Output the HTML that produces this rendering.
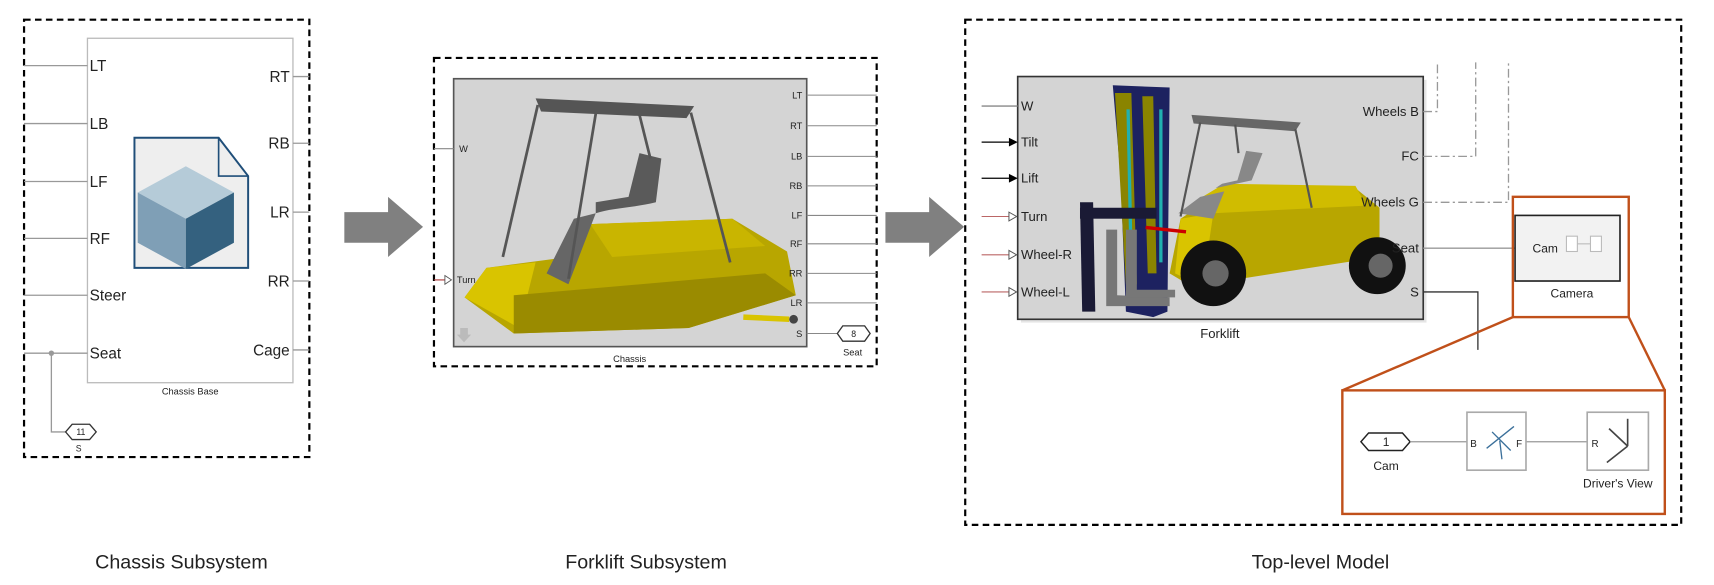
<!DOCTYPE html>
<html><head><meta charset="utf-8"><style>
html,body{margin:0;padding:0;background:#fff;}
svg{display:block;}
text{font-family:"Liberation Sans",sans-serif;fill:#222;}
</style></head><body>
<svg width="1714" height="585" viewBox="0 0 1568 535" preserveAspectRatio="none" xmlns="http://www.w3.org/2000/svg">
<rect x="22" y="18" width="261" height="400" fill="none" stroke="#000" stroke-width="2" stroke-dasharray="6,4"/>
<rect x="80" y="35" width="188" height="315" fill="#fff" stroke="#bbb" stroke-width="1.2"/>
<g stroke="#999" stroke-width="1.2">
<line x1="22" y1="60" x2="80" y2="60"/><line x1="22" y1="113" x2="80" y2="113"/>
<line x1="22" y1="166" x2="80" y2="166"/><line x1="22" y1="218" x2="80" y2="218"/>
<line x1="22" y1="270" x2="80" y2="270"/><line x1="22" y1="323" x2="80" y2="323"/>
<line x1="268" y1="70" x2="283" y2="70"/><line x1="268" y1="131" x2="283" y2="131"/>
<line x1="268" y1="194" x2="283" y2="194"/><line x1="268" y1="257" x2="283" y2="257"/>
<line x1="268" y1="320" x2="283" y2="320"/>
<polyline points="47,323 47,395 60,395" fill="none"/>
</g>
<circle cx="47" cy="323" r="2.5" fill="#999"/>
<g font-size="14">
<text x="82" y="65">LT</text><text x="82" y="118">LB</text><text x="82" y="171">LF</text>
<text x="82" y="223">RF</text><text x="82" y="275">Steer</text><text x="82" y="328">Seat</text>
<text x="265" y="75" text-anchor="end">RT</text><text x="265" y="136" text-anchor="end">RB</text>
<text x="265" y="199" text-anchor="end">LR</text><text x="265" y="262" text-anchor="end">RR</text>
<text x="265" y="325" text-anchor="end">Cage</text>
</g>
<path d="M123,126 L200,126 L227,161 L227,245 L123,245 Z" fill="#eee" stroke="#1f4e79" stroke-width="1.8"/>
<path d="M200,126 L200,161 L227,161" fill="none" stroke="#1f4e79" stroke-width="1.5"/>
<polygon points="170,152 214,176 170,200 126,176" fill="#b5cbd8"/>
<polygon points="126,176 170,200 170,246 126,222" fill="#7f9fb6"/>
<polygon points="214,176 170,200 170,246 214,222" fill="#34617f"/>
<text x="174" y="361" font-size="8.5" text-anchor="middle">Chassis Base</text>
<polygon points="60,395 66,388 82,388 88,395 82,402 66,402" fill="#fff" stroke="#333" stroke-width="1.2"/>
<text x="74" y="398" font-size="8" text-anchor="middle">11</text>
<text x="72" y="413" font-size="8" text-anchor="middle">S</text>
<polygon points="315,194 355,194 355,180 387,207.5 355,235 355,222 315,222" fill="#808080"/>
<rect x="397" y="53" width="405" height="282" fill="none" stroke="#000" stroke-width="2" stroke-dasharray="6,4"/>
<rect x="415" y="72" width="323" height="245" fill="#d4d4d4" stroke="#555" stroke-width="1.5"/>
<g stroke="#888" stroke-width="1">
<line x1="738" y1="87" x2="802" y2="87"/><line x1="738" y1="115" x2="802" y2="115"/>
<line x1="738" y1="143" x2="802" y2="143"/><line x1="738" y1="170" x2="802" y2="170"/>
<line x1="738" y1="197" x2="802" y2="197"/><line x1="738" y1="223" x2="802" y2="223"/>
<line x1="738" y1="250" x2="802" y2="250"/><line x1="738" y1="277" x2="802" y2="277"/>
<line x1="738" y1="305" x2="766" y2="305"/><line x1="397" y1="136" x2="415" y2="136"/>
</g>
<line x1="397" y1="256" x2="407" y2="256" stroke="#a33" stroke-width="1"/>
<polygon points="407,252 413,256 407,260" fill="#fff" stroke="#555" stroke-width="0.8"/>
<g>
<polygon points="425,272 445,245 520,235 540,205 670,200 720,230 728,270 630,300 470,305" fill="#b8a600"/>
<polygon points="425,272 445,245 490,240 475,300" fill="#d9c400"/>
<polygon points="470,270 700,250 728,270 630,300 470,305" fill="#9a8b00"/>
<polygon points="540,205 670,200 700,225 560,235" fill="#c9b500"/>
<polygon points="500,250 525,200 545,195 520,260" fill="#666"/>
<path d="M545,195 C560,190 580,190 600,185 L605,145 L585,140 L575,180 L545,185 Z" fill="#5a5a5a"/>
<polygon points="490,90 635,97 628,108 495,102" fill="#555"/>
<g stroke="#555" stroke-width="2.5" fill="none">
<line x1="492" y1="96" x2="460" y2="235"/><line x1="632" y1="103" x2="668" y2="240"/>
<line x1="545" y1="104" x2="520" y2="255"/><line x1="585" y1="105" x2="595" y2="145"/>
</g>
<line x1="680" y1="290" x2="722" y2="292" stroke="#d9c400" stroke-width="5"/>
<circle cx="726" cy="292" r="4" fill="#444"/>
</g>
<g font-size="8.5">
<text x="420" y="139">W</text><text x="418" y="259">Turn</text>
<text x="734" y="90" text-anchor="end">LT</text><text x="734" y="118" text-anchor="end">RT</text>
<text x="734" y="146" text-anchor="end">LB</text><text x="734" y="173" text-anchor="end">RB</text>
<text x="734" y="200" text-anchor="end">LF</text><text x="734" y="226" text-anchor="end">RF</text>
<text x="734" y="253" text-anchor="end">RR</text><text x="734" y="280" text-anchor="end">LR</text>
<text x="734" y="308" text-anchor="end">S</text>
<text x="576" y="331" text-anchor="middle">Chassis</text>
<text x="780" y="325" text-anchor="middle">Seat</text>
</g>
<polygon points="766,305 771,298 791,298 796,305 791,312 771,312" fill="#fff" stroke="#333" stroke-width="1.2"/>
<text x="781" y="308" font-size="8" text-anchor="middle">8</text>
<polygon points="421,300 428,300 428,306 431,306 424.5,313 418,306 421,306" fill="#bbb"/>
<polygon points="810,194 850,194 850,180 882,207.5 850,235 850,222 810,222" fill="#808080"/>
<rect x="883" y="18" width="655" height="462" fill="none" stroke="#000" stroke-width="2" stroke-dasharray="6,4"/>
<rect x="934" y="73" width="371" height="222" fill="#ccc" opacity="0.5"/>
<rect x="931" y="70" width="371" height="222" fill="#d4d4d4" stroke="#333" stroke-width="1.5"/>
<g>
<polygon points="1080,200 1110,180 1240,172 1262,190 1262,235 1090,262 1070,250" fill="#b8a600"/>
<polygon points="1100,180 1120,168 1240,170 1250,188 1110,195" fill="#d0bc00"/>
<polygon points="1080,200 1110,195 1100,262 1075,250" fill="#d9c400"/>
<path d="M1078,195 L1098,180 L1120,175 L1110,200 Z" fill="#888"/>
<path d="M1112,172 L1145,165 L1155,140 L1140,138 L1132,165 L1118,168 Z" fill="#888"/>
<polygon points="1090,105 1190,112 1185,120 1092,113" fill="#666"/>
<g stroke="#555" stroke-width="2" fill="none">
<line x1="1098" y1="112" x2="1080" y2="198"/><line x1="1185" y1="118" x2="1200" y2="190"/>
<line x1="1130" y1="114" x2="1133" y2="140"/>
</g>
<polygon points="1018,78 1070,80 1068,285 1055,290 1030,285 1025,160" fill="#1d2260"/>
<polygon points="1020,85 1035,85 1040,260 1030,260" fill="#8a8400"/>
<polygon points="1045,88 1055,88 1058,250 1050,250" fill="#8a8400"/>
<line x1="1032" y1="100" x2="1035" y2="250" stroke="#20b0b0" stroke-width="3"/>
<line x1="1062" y1="100" x2="1062" y2="240" stroke="#20b0b0" stroke-width="3"/>
<line x1="1048" y1="208" x2="1085" y2="212" stroke="#c00" stroke-width="3"/>
<polygon points="988,185 1000,185 1002,285 990,285" fill="#1a1a35"/>
<rect x="988" y="190" width="70" height="10" fill="#1a1a35"/>
<polygon points="1012,210 1022,210 1022,270 1070,272 1070,280 1012,280" fill="#777"/>
<polygon points="1030,210 1040,210 1040,265 1075,265 1075,272 1030,272" fill="#777"/>
<circle cx="1110" cy="250" r="30" fill="#111"/><circle cx="1112" cy="250" r="12" fill="#666"/>
<circle cx="1260" cy="243" r="26" fill="#111"/><circle cx="1263" cy="243" r="11" fill="#666"/>
</g>
<line x1="898" y1="97" x2="931" y2="97" stroke="#888" stroke-width="1.2"/>
<g stroke="#000" stroke-width="1.2"><line x1="898" y1="130" x2="924" y2="130"/><line x1="898" y1="163" x2="924" y2="163"/></g>
<polygon points="923,126 931,130 923,134" fill="#000"/><polygon points="923,159 931,163 923,167" fill="#000"/>
<g stroke="#b66" stroke-width="1"><line x1="898" y1="198" x2="923" y2="198"/><line x1="898" y1="233" x2="923" y2="233"/><line x1="898" y1="267" x2="923" y2="267"/></g>
<g fill="#fff" stroke="#555" stroke-width="0.9"><polygon points="923,194 930,198 923,202"/><polygon points="923,229 930,233 923,237"/><polygon points="923,263 930,267 923,271"/></g>
<g font-size="12">
<text x="934" y="101">W</text><text x="934" y="134">Tilt</text><text x="934" y="167">Lift</text>
<text x="934" y="202">Turn</text><text x="934" y="237">Wheel-R</text><text x="934" y="271">Wheel-L</text>
<text x="1298" y="106" text-anchor="end">Wheels B</text><text x="1298" y="147" text-anchor="end">FC</text>
<text x="1298" y="189" text-anchor="end">Wheels G</text><text x="1298" y="231" text-anchor="end">Seat</text>
<text x="1298" y="271" text-anchor="end">S</text>
<text x="1116" y="309" text-anchor="middle">Forklift</text>
</g>
<g stroke="#999" stroke-width="1.2" fill="none" stroke-dasharray="8,3,2,3">
<polyline points="1302,102 1315,102 1315,57"/>
<polyline points="1302,143 1350,143 1350,57"/>
<polyline points="1302,185 1380,185 1380,57"/>
</g>
<line x1="1302" y1="227" x2="1390" y2="227" stroke="#999" stroke-width="1.2"/>
<polyline points="1302,267 1352,267 1352,320" fill="none" stroke="#333" stroke-width="1.2"/>
<rect x="1386" y="197" width="96" height="60" fill="#f2f2f2" stroke="#222" stroke-width="1.5"/>
<rect x="1433" y="216" width="10" height="14" fill="#fff" stroke="#bbb"/><rect x="1455" y="216" width="10" height="14" fill="#fff" stroke="#bbb"/>
<line x1="1443" y1="223" x2="1455" y2="223" stroke="#bbb"/>
<text x="1402" y="231" font-size="11">Cam</text>
<text x="1438" y="272" font-size="11" text-anchor="middle">Camera</text>
<g stroke="#c0501a" stroke-width="2.2" fill="none">
<rect x="1384" y="180" width="106" height="110"/>
<line x1="1384" y1="290" x2="1228" y2="357"/><line x1="1490" y1="290" x2="1523" y2="357"/>
<rect x="1228" y="357" width="295" height="113"/>
</g>
<polygon points="1245,404 1252,396 1283,396 1290,404 1283,412 1252,412" fill="#fff" stroke="#222" stroke-width="1.3"/>
<text x="1268" y="408" font-size="11" text-anchor="middle">1</text>
<text x="1268" y="430" font-size="11" text-anchor="middle">Cam</text>
<g stroke="#999" stroke-width="1.2"><line x1="1290" y1="404" x2="1342" y2="404"/><line x1="1396" y1="404" x2="1452" y2="404"/></g>
<rect x="1342" y="377" width="54" height="53" fill="#fff" stroke="#aaa" stroke-width="1.5"/>
<rect x="1452" y="377" width="56" height="53" fill="#fff" stroke="#aaa" stroke-width="1.5"/>
<g stroke="#3a6f9a" stroke-width="1.2" fill="none"><line x1="1360" y1="410" x2="1385" y2="390"/><line x1="1365" y1="395" x2="1382" y2="412"/><line x1="1372" y1="403" x2="1374" y2="420"/></g>
<g stroke="#444" stroke-width="1.5" fill="none"><line x1="1489" y1="383" x2="1489" y2="408"/><line x1="1489" y1="408" x2="1470" y2="423"/><line x1="1489" y1="408" x2="1472" y2="392"/></g>
<text x="1345" y="409" font-size="9">B</text><text x="1387" y="409" font-size="9">F</text>
<text x="1456" y="409" font-size="9">R</text>
<text x="1480" y="446" font-size="11" text-anchor="middle">Driver's View</text>
<g font-size="18" text-anchor="middle">
<text x="166" y="520">Chassis Subsystem</text>
<text x="591" y="520">Forklift Subsystem</text>
<text x="1208" y="520">Top-level Model</text>
</g>
</svg>
</body></html>
